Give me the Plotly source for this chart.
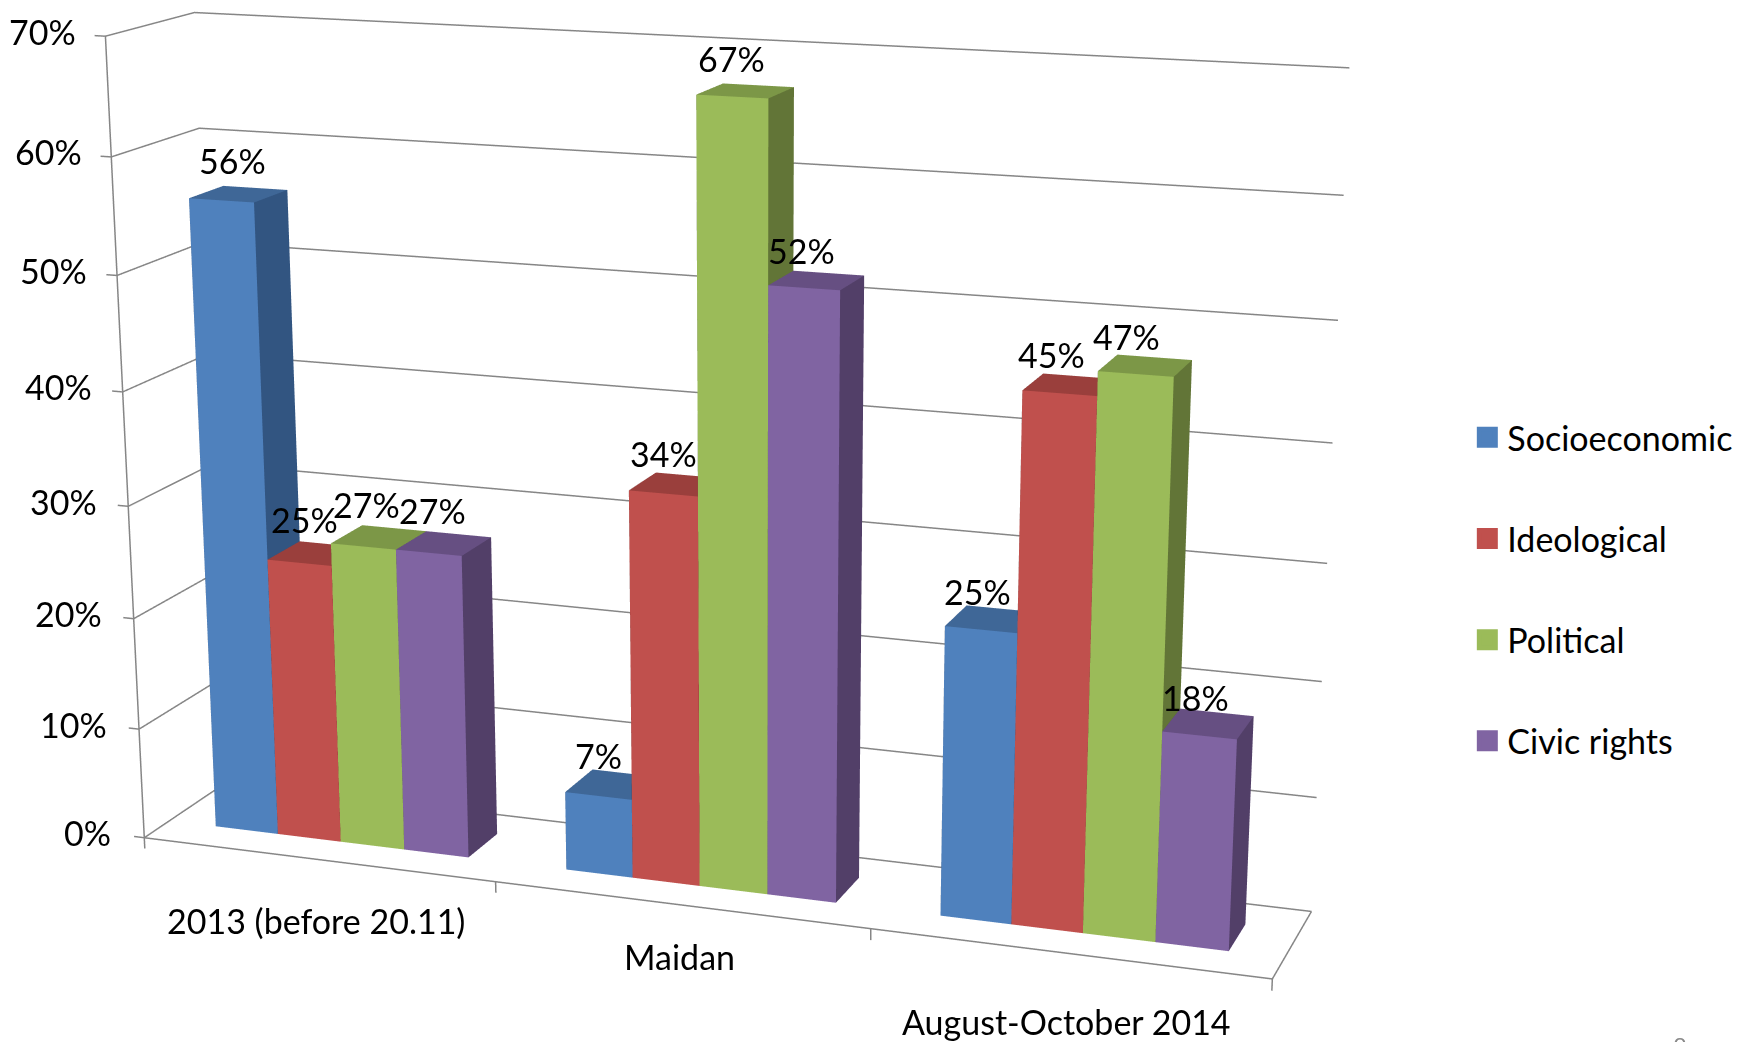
import plotly.graph_objects as go

categories = ["2013 (before 20.11)", "Maidan", "August-October 2014"]
series = ["Socioeconomic", "Ideological", "Political", "Civic rights"]
socioeconomic = [56, 7, 25]
ideological = [25, 34, 45]
political = [27, 67, 47]
civic_rights = [27, 52, 18]
values = [socioeconomic, ideological, political, civic_rights]
value_ticks = list(range(0, 71, 10))

front = ["#4F81BD", "#C0504D", "#9BBB59", "#8064A2"]
top = ["#3F6797", "#9A3F3C", "#7C9747", "#664F82"]
side = ["#325581", "#77312F", "#627537", "#523F68"]
GRID = "#868686"

# Bar layout: Excel's default 150% gap width and gap depth
BAR = 1 / 5.5
D0, D1 = 0.3, 0.7

# Oblique view of the chart box (Excel's 3-D view is not a true perspective camera)
LEAN_X = -0.14344
OFFSET_X = 0.0055
LEAN_Y = 5.55019
SKEW_X = 3 * 0.03936
SCALE_X, SCALE_Y = 1.70915, 0.11955


def X(x, y, z):
    return float(x + OFFSET_X + SKEW_X * (y - 0.5) + LEAN_X * (z - 35) / 70)


def Y(y, z):
    return float(y + LEAN_Y * (z - 35) / 70)


LAB = dict(family="Lato", size=34, color="black")
label_shift = [[(-6, 34), (-13, 29), (-14, 28)],
               [(-11, 34), (-13, 31), (-18, 30)],
               [(-12, 33), (-14, 32), (-19, 29)],
               [(-11, 33), (-15, 30), (-13, 26)]]
category_shift = [(-1, -61), (-1, -52), (-2, -68)]

fig = go.Figure()
anns = []
I = [0, 0, 4, 4, 0, 0, 1, 1, 2, 2, 3, 3]
J = [1, 2, 5, 6, 1, 5, 2, 6, 3, 7, 0, 4]
K = [2, 3, 6, 7, 5, 4, 6, 5, 7, 6, 4, 7]
for s, name in enumerate(series):
    for c, cat in enumerate(categories):
        v = values[s][c]
        x0 = c + 0.75 * BAR + s * BAR
        x1 = x0 + BAR
        ux = [x0, x1, x1, x0, x0, x1, x1, x0]
        uy = [D0, D0, D1, D1, D0, D0, D1, D1]
        uz = [0, 0, 0, 0, v, v, v, v]
        fc = [front[s]] * 2 + [top[s]] * 2 + [front[s]] * 2 + [side[s]] * 6
        fig.add_trace(go.Mesh3d(
            x=[X(a, b, h) for a, b, h in zip(ux, uy, uz)],
            y=[Y(b, h) for b, h in zip(uy, uz)],
            z=uz, i=I, j=J, k=K, facecolor=fc, flatshading=True,
            lighting=dict(ambient=1, diffuse=0, specular=0, fresnel=0),
            hoverinfo="skip", showscale=False, showlegend=False))
        cx, cy = (x0 + x1) / 2, (D0 + D1) / 2
        dx, dy = label_shift[s][c]
        anns.append(dict(x=X(cx, cy, v), y=Y(cy, v), z=v, text=f"{v}%", showarrow=False,
                         xshift=dx, yshift=dy, font=LAB))

for c, cat in enumerate(categories):
    dx, dy = category_shift[c]
    anns.append(dict(x=X(c + 0.5, 0, 0), y=Y(0, 0), z=0, text=cat, showarrow=False,
                     xshift=dx, yshift=dy, font=LAB))
for t in value_ticks:
    anns.append(dict(x=X(0, 0, t), y=Y(0, t), z=t, text=f"{t}%", showarrow=False,
                     xanchor="right", xshift=-31 + 4 * t / 70, yshift=5, font=LAB))

lx, ly, lz = [], [], []


def seg(*points):
    for a, b, h in points:
        lx.append(X(a, b, h))
        ly.append(Y(b, h))
        lz.append(h)
    lx.append(None)
    ly.append(None)
    lz.append(None)


for t in value_ticks:
    seg((-0.03, 0, t), (0, 0, t), (0, 1, t), (3, 1, t))
seg((0, 0, 0), (0, 0, 70))
seg((0, 0, 0), (3, 0, 0), (3, 1, 0))
for a in range(len(categories) + 1):
    seg((a, 0, 0), (a, 0, -1))
fig.add_trace(go.Scatter3d(x=lx, y=ly, z=lz, mode="lines", line=dict(color=GRID, width=3),
                           showlegend=False, hoverinfo="skip"))

for s, name in enumerate(series):
    fig.add_trace(go.Scatter3d(x=[None], y=[None], z=[None], mode="markers", name=name, legendgroup=name,
                               marker=dict(symbol="square", size=16, color=front[s],
                                           line=dict(color=front[s], width=5))))

Rx = 2 + abs(LEAN_X) / 2 + abs(SKEW_X) / 2
Ry = 0.7 + abs(LEAN_Y) / 2
Rz = 50
hid = dict(visible=False, showbackground=False, showspikes=False)
fig.update_layout(
    width=1754, height=1042, margin=dict(l=0, r=0, t=0, b=0), paper_bgcolor="white",
    font=dict(family="Lato", size=34, color="black"),
    scene=dict(
        domain=dict(x=[0, 1], y=[0, 1]), aspectmode="manual",
        aspectratio=dict(x=SCALE_X * 2 * Rx / 3, y=SCALE_Y * 2 * Ry, z=2 * Rz / 70),
        camera=dict(eye=dict(x=0.46257, y=-1.42267, z=1.10706),
                    center=dict(x=0.26339, y=-0.02103, z=-0.05385),
                    up=dict(x=0.00202, y=-0.02212, z=1),
                    projection=dict(type="perspective")),
        xaxis=dict(hid, range=[1.5 - Rx, 1.5 + Rx]),
        yaxis=dict(hid, range=[0.5 - Ry, 0.5 + Ry]),
        zaxis=dict(hid, range=[35 - Rz, 35 + Rz]),
        annotations=anns),
    legend=dict(x=0.832, y=0.6155, xanchor="left", yanchor="top", tracegroupgap=54,
                itemsizing="trace", font=dict(family="Lato", size=34)),
    annotations=[dict(text="8", x=1681 / 1754, y=0.02, xref="paper", yref="paper", yanchor="top",
                      showarrow=False, font=dict(family="Lato", size=24, color="#8a8a8a"))])
fig.write_html("out.html")
